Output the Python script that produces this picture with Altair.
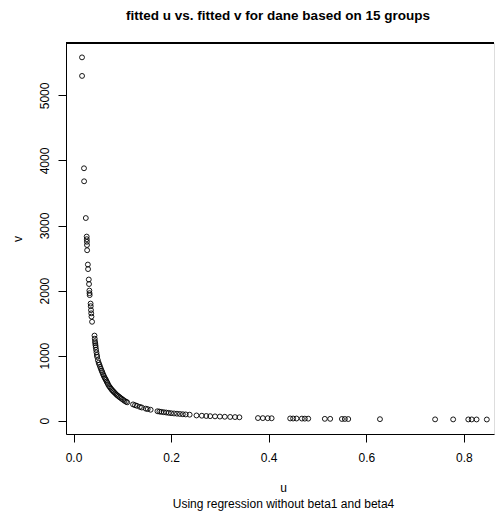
import altair as alt
import pandas as pd

u_vals = [
    0.0174, 0.0175, 0.0215, 0.0217, 0.0252, 0.0270, 0.0272, 0.0274, 0.0276, 0.0279,
    0.0294, 0.0298, 0.0313, 0.0318, 0.0325, 0.0328, 0.0331, 0.0350, 0.0353, 0.0358,
    0.0363, 0.0368, 0.0380,
    0.0430, 0.0435, 0.0440, 0.0445, 0.0450, 0.0455, 0.0462, 0.0470, 0.0478, 0.0485,
    0.0500, 0.0515, 0.0530, 0.0545, 0.0560, 0.0575, 0.0590, 0.0605, 0.0620, 0.0635,
    0.0650, 0.0665, 0.0680, 0.0695, 0.0710, 0.0730, 0.0750, 0.0770, 0.0790, 0.0810,
    0.0830, 0.0855, 0.0880, 0.0905, 0.0930, 0.0955, 0.0985, 0.1015, 0.1045, 0.1075,
    0.1100,
    0.1220, 0.1260, 0.1300, 0.1360, 0.1400, 0.1480, 0.1520, 0.1580, 0.1720, 0.1760,
    0.1800, 0.1850, 0.1900, 0.1950, 0.2000, 0.2060, 0.2120, 0.2180, 0.2240, 0.2300,
    0.2380,
    0.2520, 0.2630, 0.2720, 0.2800, 0.2900, 0.3000, 0.3100, 0.3210, 0.3310, 0.3400,
    0.3780, 0.3880, 0.3980, 0.4060, 0.4440, 0.4500, 0.4570, 0.4680, 0.4740, 0.4810,
    0.5150, 0.5260, 0.5500, 0.5560, 0.5630, 0.6280, 0.7410, 0.7780, 0.8090, 0.8160,
    0.8260, 0.8470,
]

v_vals = [
    5585, 5300, 3880, 3680, 3115, 2830, 2790, 2750, 2700, 2620,
    2400, 2330, 2170, 2100, 2000, 1960, 1930, 1800, 1760, 1700,
    1650, 1600, 1520,
    1308, 1260, 1220, 1190, 1160, 1130, 1090, 1050, 1010, 980,
    930, 890, 860, 830, 800, 770, 745, 715, 690, 665,
    645, 625, 600, 580, 555, 530, 510, 490, 470, 455,
    438, 420, 400, 385, 370, 355, 338, 322, 305, 292,
    282,
    250, 238, 228, 212, 202, 185, 178, 168, 145, 140,
    135, 130, 125, 120, 115, 111, 107, 103, 99, 96,
    92,
    80, 76, 72, 69, 66, 63, 60, 57, 55, 52,
    40, 39, 38, 37, 34, 33, 33, 32, 31, 31,
    28, 28, 26, 26, 25, 23, 20, 19.5, 19, 19,
    18.5, 18,
]

x_ticks = [0.0, 0.2, 0.4, 0.6, 0.8]
y_ticks = [0, 1000, 2000, 3000, 4000, 5000]

df = pd.DataFrame({"u": u_vals, "v": v_vals})

FONT = "Liberation Sans"

points = alt.Chart(df).mark_point(
    shape="circle", filled=False, color="black", size=24, strokeWidth=0.9, opacity=1
).encode(
    x=alt.X(
        "u:Q",
        scale=alt.Scale(domain=[-0.0154, 0.8617], nice=False, zero=False),
        axis=alt.Axis(
            values=x_ticks, format=".1f", grid=False,
            title=["u", "Using regression without beta1 and beta4"],
            titleFont=FONT, titleFontSize=12, titleFontWeight="normal",
            titleBaseline="alphabetic", titleY=57, titleX=217, titleLineHeight=16.5,
            labelFont=FONT, labelFontSize=12, labelColor="black",
            labelPadding=10, tickSize=8, tickColor="black",
            domainColor="black", labelFlush=False,
        ),
    ),
    y=alt.Y(
        "v:Q",
        scale=alt.Scale(domain=[-205, 5806], nice=False, zero=False),
        axis=alt.Axis(
            values=y_ticks, format="d", grid=False,
            title="v", titleFont=FONT, titleFontSize=12, titleFontWeight="normal",
            titleBaseline="alphabetic", titleX=-45, titleAngle=270,
            labelFont=FONT, labelFontSize=12, labelColor="black",
            labelAngle=270, labelAlign="center", labelBaseline="alphabetic",
            labelPadding=10, tickSize=8, tickColor="black",
            domainColor="black", labelFlush=False,
        ),
    ),
)

frame_top = alt.Chart(df).mark_rule(color="black", strokeWidth=1).encode(
    x=alt.value(0), x2=alt.value(428), y=alt.value(0)
)

chart = alt.layer(points, frame_top).properties(
    width=428,
    height=391,
    autosize=alt.AutoSizeParams(type="none"),
    padding={"left": 66, "top": 43, "right": 1, "bottom": 80},
    title=alt.TitleParams(
        "fitted u vs. fitted v for dane based on 15 groups",
        font=FONT, fontSize=13.5, fontWeight="bold", anchor="middle",
        dx=-2, offset=20, color="black",
    ),
).configure_view(stroke=None).configure(background="white")

chart.save("out.html", embed_options={"renderer": "svg", "actions": False})
